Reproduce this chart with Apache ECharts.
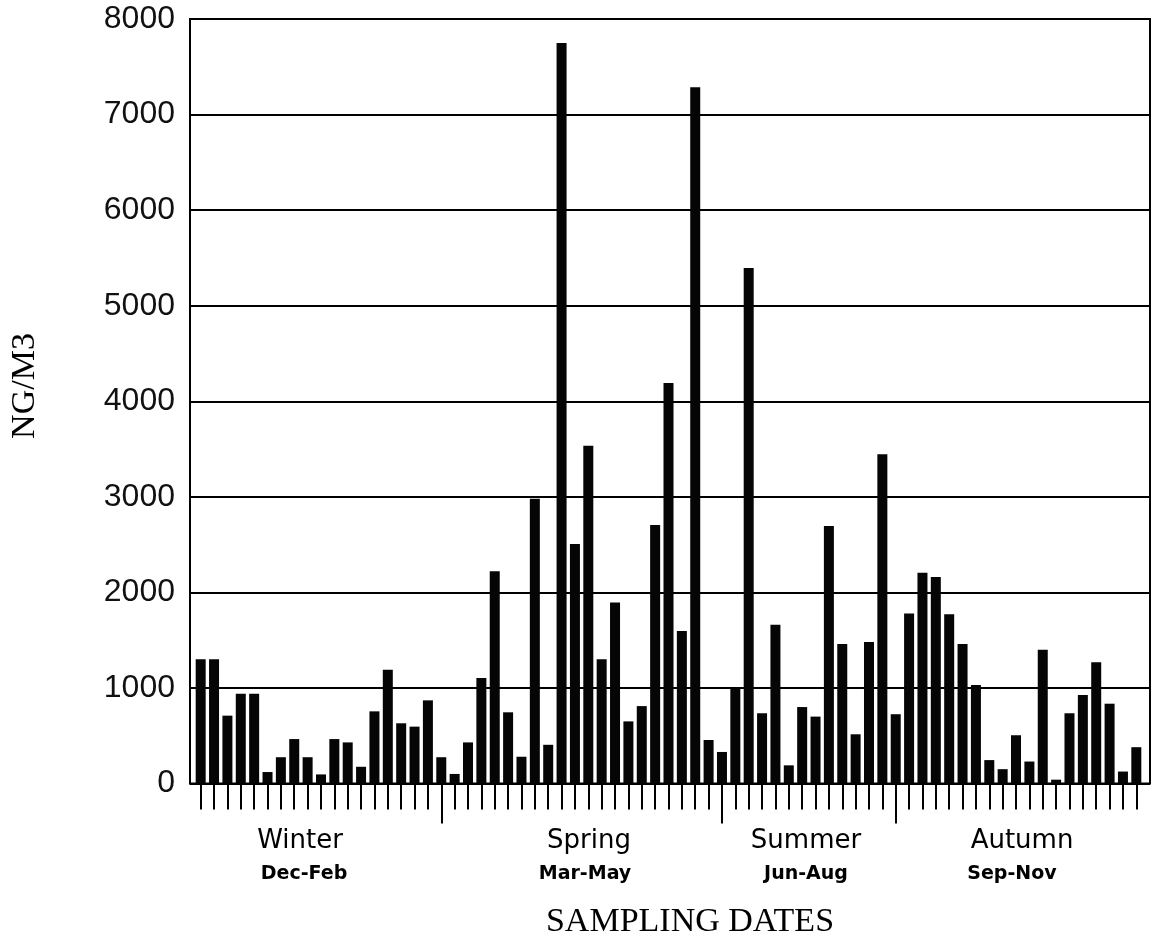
<!DOCTYPE html>
<html>
<head>
<meta charset="utf-8">
<title>NG/M3 by sampling date</title>
<script src="https://cdn.jsdelivr.net/npm/echarts@6/dist/echarts.min.js"></script>
<style>
  html, body { margin: 0; padding: 0; background: #fff; }
  #chart { width: 1156px; height: 938px; }
</style>
</head>
<body>
<div id="chart"></div>
<script>
// Sample numbers along the sampling-date axis
const samples = Array.from({ length: 71 }, (_, i) => String(i + 1));

// Concentration per sample (NG/M3)
const concentration = [
  1300, 1300, 710, 940, 940, 120, 275, 465, 275, 95,
  465, 430, 175, 755, 1190, 630, 595, 870, 275, 100,
  430, 1105, 2220, 745, 280, 2980, 405, 7750, 2505, 3535,
  1300, 1895, 650, 810, 2705, 4190, 1595, 7285, 455, 330,
  995, 5395, 735, 1660, 190, 800, 700, 2695, 1460, 515,
  1480, 3445, 725, 1780, 2205, 2160, 1770, 1460, 1030, 245,
  150, 505, 230, 1400, 40, 735, 925, 1270, 835, 125,
  380
];

// Samples that mark the start of a new season (long ticks)
const seasonBreaks = ['19', '40', '53'];

// Season captions under the axis
const seasons = ['Winter', 'Spring', 'Summer', 'Autumn'];
const seasonMonths = ['Dec-Feb', 'Mar-May', 'Jun-Aug', 'Sep-Nov'];

// Y axis scale
const yMin = 0, yMax = 8000, yStep = 1000;

const seasonX = [300, 589, 806, 1022];
const monthX = [304, 585, 806, 1012];

const chart = echarts.init(document.getElementById('chart'), null, { renderer: 'canvas' });

const graphics = [];
seasons.forEach((s, i) => {
  graphics.push({
    type: 'text', x: seasonX[i], y: 841,
    style: { text: s, fill: '#000', font: '26px "DejaVu Sans"', align: 'center', verticalAlign: 'middle' }
  });
  graphics.push({
    type: 'text', x: monthX[i], y: 874,
    style: { text: seasonMonths[i], fill: '#000', font: 'bold 19px "DejaVu Sans"', align: 'center', verticalAlign: 'middle' }
  });
});
graphics.push({
  type: 'text', x: 690, y: 922,
  style: { text: 'SAMPLING DATES', fill: '#000', font: '34px "Liberation Serif"', align: 'center', verticalAlign: 'middle' }
});
graphics.push({
  type: 'text', x: 25, y: 386, rotation: Math.PI / 2,
  style: { text: 'NG/M3', fill: '#000', font: '34px "Liberation Serif"', align: 'center', verticalAlign: 'middle' }
});

const option = {
  animation: false,
  backgroundColor: '#fff',
  grid: [
    // framed plotting area with gridlines
    { left: 190, top: 19, width: 960, height: 764.5, show: true, borderColor: '#000', borderWidth: 2, backgroundColor: 'transparent' },
    // bar band area inside the frame
    { left: 194, top: 19, width: 949, height: 764.5 }
  ],
  xAxis: [
    { gridIndex: 0, type: 'value', min: 0, max: 1, show: false },
    {
      gridIndex: 1, type: 'category', data: samples, boundaryGap: true,
      axisLine: { show: false },
      axisTick: { show: true, alignWithLabel: true, interval: 0, length: 26, lineStyle: { color: '#000', width: 2 } },
      axisLabel: { show: false },
      splitLine: { show: false }
    },
    {
      gridIndex: 1, type: 'category', data: samples, boundaryGap: true, position: 'bottom',
      axisLine: { show: false },
      axisTick: {
        show: true, alignWithLabel: true, length: 40,
        interval: (idx, val) => seasonBreaks.includes(val),
        lineStyle: { color: '#000', width: 2 }
      },
      axisLabel: { show: false },
      splitLine: { show: false }
    }
  ],
  yAxis: [
    {
      gridIndex: 0, type: 'value', min: yMin, max: yMax, interval: yStep,
      axisLine: { show: true, lineStyle: { color: '#000', width: 2 } },
      axisTick: { show: false },
      axisLabel: {
        color: '#111', fontSize: 32, fontFamily: 'Liberation Sans', margin: 15,
        padding: [8, 0, 0, 0],
        formatter: (v) => String(v)
      },
      splitLine: { show: true, lineStyle: { color: '#000', width: 2 } }
    },
    { gridIndex: 1, type: 'value', min: yMin, max: yMax, interval: yStep, show: false, splitLine: { show: false } }
  ],
  series: [
    {
      type: 'bar', xAxisIndex: 1, yAxisIndex: 1,
      data: concentration, barWidth: 10,
      itemStyle: { color: '#050505' }
    }
  ],
  graphic: graphics
};

chart.setOption(option);
</script>
</body>
</html>
